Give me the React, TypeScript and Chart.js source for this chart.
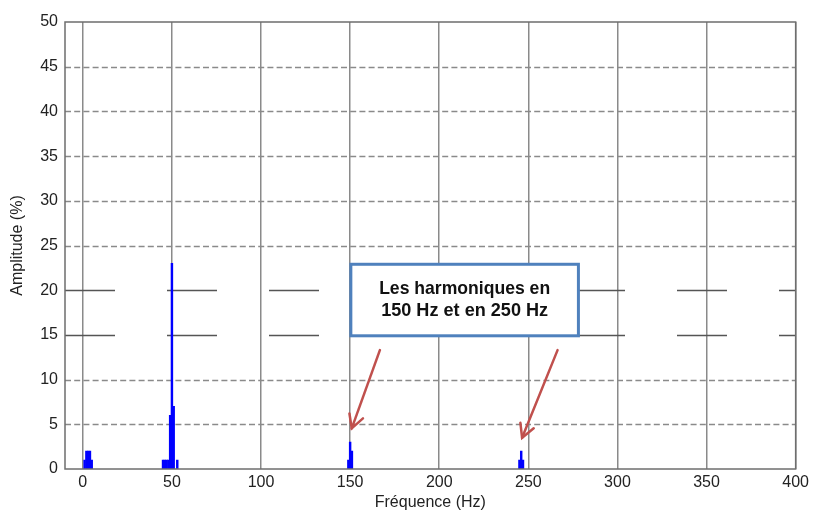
import React, { useEffect, useRef } from "react";
import { Chart, registerables } from "chart.js";

Chart.register(...registerables);

// Spectrum data (frequency in Hz, amplitude in %)
const freqHz = [1, 2, 3, 4, 5, 45, 46, 47, 48, 49, 50, 51, 53, 149, 150, 151, 245, 246, 247];
const amplitudePct = [1, 2, 2, 2, 1, 1, 1, 1, 1, 6, 23, 7, 1, 1, 3, 2, 1, 2, 1];

const xTicks = [0, 50, 100, 150, 200, 250, 300, 350, 400];
const yTicks = [0, 5, 10, 15, 20, 25, 30, 35, 40, 45, 50];
const longDashLevels = [15, 20];

const xTitle = "Fréquence (Hz)";
const yTitle = "Amplitude (%)";
const noteLines = ["Les harmoniques en", "150 Hz et en 250 Hz"];

// annotation geometry in data units
const noteBox = { x0: 150.4, x1: 278.1, y0: 22.9, y1: 14.9 };
const arrows = [
  { fx: 166.7, fy: 13.3, tx: 150.9, ty: 4.55 },
  { fx: 266.4, fy: 13.3, tx: 246.5, ty: 3.5 },
];

const FONT = "'Liberation Sans', Arial, sans-serif";

const decor = {
  id: "decor",
  beforeDatasetsDraw(chart: any) {
    const { ctx, chartArea, scales } = chart;
    const { left, right } = chartArea;
    const y = scales.y;
    ctx.save();
    for (const v of yTicks) {
      if (v === 0 || v === 50) continue;
      const py = Math.round(y.getPixelForValue(v)) + 0.5;
      ctx.beginPath();
      if (longDashLevels.includes(v)) {
        ctx.setLineDash([50, 52]);
        ctx.strokeStyle = "#555";
      } else {
        ctx.setLineDash([6, 3.2]);
        ctx.strokeStyle = "#8a8a8a";
      }
      ctx.lineWidth = 1.5;
      ctx.moveTo(left, py);
      ctx.lineTo(right, py);
      ctx.stroke();
    }
    ctx.restore();
  },
  afterDraw(chart: any) {
    const { ctx, chartArea, scales } = chart;
    const { left, right, top, bottom } = chartArea;
    const x = scales.x;
    const y = scales.y;
    ctx.save();
    // frame
    ctx.setLineDash([]);
    ctx.strokeStyle = "#6e6e6e";
    ctx.lineWidth = 1.5;
    ctx.strokeRect(left, top, right - left, bottom - top);

    // note box
    const bx0 = x.getPixelForValue(noteBox.x0);
    const bx1 = x.getPixelForValue(noteBox.x1);
    const by0 = y.getPixelForValue(noteBox.y0);
    const by1 = y.getPixelForValue(noteBox.y1);
    ctx.fillStyle = "#ffffff";
    ctx.fillRect(bx0, by0, bx1 - bx0, by1 - by0);
    ctx.strokeStyle = "#4f81bd";
    ctx.lineWidth = 3;
    ctx.strokeRect(bx0, by0, bx1 - bx0, by1 - by0);

    ctx.fillStyle = "#111";
    ctx.textAlign = "center";
    ctx.textBaseline = "alphabetic";
    ctx.font = `bold 19px ${FONT}`;
    const cx = (bx0 + bx1) / 2;
    ctx.fillText(noteLines[0], cx, by0 + 30, 171);
    ctx.fillText(noteLines[1], cx, by0 + 52, 167);

    // arrows
    ctx.strokeStyle = "#c0504d";
    ctx.lineWidth = 2.5;
    ctx.lineCap = "round";
    for (const a of arrows) {
      const fx = x.getPixelForValue(a.fx);
      const fy = y.getPixelForValue(a.fy);
      const tx = x.getPixelForValue(a.tx);
      const ty = y.getPixelForValue(a.ty);
      ctx.beginPath();
      ctx.moveTo(fx, fy);
      ctx.lineTo(tx, ty);
      ctx.stroke();
      const ang = Math.atan2(fy - ty, fx - tx);
      const len = 15;
      const spread = 0.5;
      ctx.beginPath();
      ctx.moveTo(tx + len * Math.cos(ang - spread), ty + len * Math.sin(ang - spread));
      ctx.lineTo(tx, ty);
      ctx.lineTo(tx + len * Math.cos(ang + spread), ty + len * Math.sin(ang + spread));
      ctx.stroke();
    }
    ctx.restore();
  },
};

export default function App() {
  const ref = useRef<HTMLCanvasElement | null>(null);
  useEffect(() => {
    if (!ref.current) return;
    const chart = new Chart(ref.current, {
      type: "bar",
      data: {
        datasets: [
          {
            data: freqHz.map((f, i) => ({ x: f, y: amplitudePct[i] })),
            backgroundColor: "#0000ff",
            borderWidth: 0,
            barPercentage: 1,
            categoryPercentage: 1,
          },
        ],
      },
      options: {
        responsive: false,
        animation: false,
        devicePixelRatio: 1,
        layout: { padding: { left: 0, top: 22, right: 16, bottom: 0 } },
        plugins: { legend: { display: false }, tooltip: { enabled: false } },
        scales: {
          x: {
            type: "linear",
            min: -10,
            max: 400,
            offset: false,
            afterBuildTicks: (s: any) => {
              s.ticks = xTicks.map((v) => ({ value: v }));
            },
            afterFit: (s: any) => {
              s.height = 47;
            },
            grid: { color: "#8a8a8a", lineWidth: 1.5, drawTicks: false, offset: false },
            border: { display: false },
            ticks: {
              autoSkip: false,
              maxRotation: 0,
              padding: 4,
              color: "#222",
              font: { family: FONT, size: 16 },
            },
            title: {
              display: true,
              text: xTitle,
              color: "#222",
              font: { family: FONT, size: 16 },
              padding: { top: 0, bottom: 4 },
            },
          },
          y: {
            min: 0,
            max: 50,
            afterBuildTicks: (s: any) => {
              s.ticks = yTicks.map((v) => ({ value: v }));
            },
            afterFit: (s: any) => {
              s.width = 65;
            },
            grid: { display: false, drawTicks: false },
            border: { display: false },
            ticks: {
              padding: 7,
              color: "#222",
              font: { family: FONT, size: 16 },
            },
            title: {
              display: true,
              text: yTitle,
              color: "#222",
              font: { family: FONT, size: 16 },
              padding: { top: 8, bottom: 0 },
            },
          },
        },
      },
      plugins: [decor],
    });
    return () => chart.destroy();
  }, []);
  return (
    <div style={{ position: "absolute", left: 0, top: 0, width: 813, height: 516, background: "#fff" }}>
      <canvas ref={ref} width={813} height={516} style={{ display: "block" }} />
    </div>
  );
}
